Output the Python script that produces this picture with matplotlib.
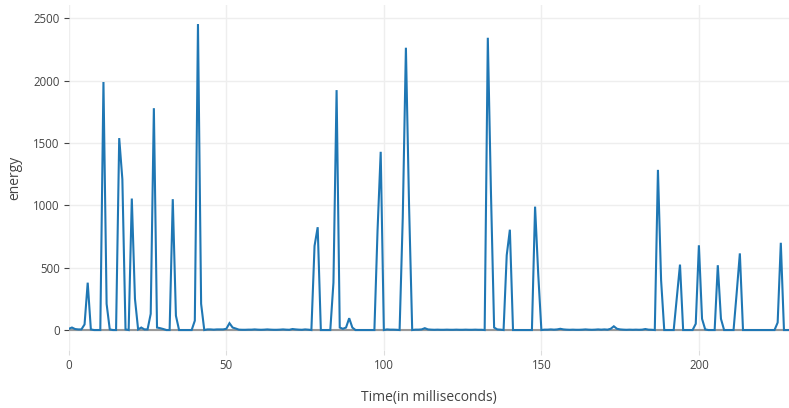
from matplotlib import pyplot as plt

# energy per millisecond sample, t = 0 .. 229
energy = [
    10, 20, 8, 5, 5, 45, 380, 5, 0, 0,
    0, 1990, 210, 5, 0, 0, 1540, 1210, 5, 0,
    1055, 250, 5, 20, 5, 5, 130, 1780, 20, 15,
    8, 0, 0, 1050, 115, 0, 0, 0, 0, 0,
    75, 2455, 210, 0, 5, 5, 3, 5, 5, 5,
    10, 55, 20, 12, 3, 2, 2, 3, 3, 5,
    3, 2, 3, 5, 3, 2, 2, 3, 5, 3,
    2, 8, 5, 3, 2, 5, 3, 0, 675, 825,
    0, 0, 0, 0, 380, 1925, 20, 10, 20, 95,
    20, 0, 0, 0, 0, 0, 0, 0, 800, 1430,
    0, 5, 3, 3, 2, 0, 900, 2265, 1000, 0,
    3, 3, 5, 15, 5, 3, 2, 3, 2, 2,
    3, 2, 2, 3, 2, 2, 3, 2, 2, 3,
    2, 2, 0, 2345, 1100, 20, 5, 3, 0, 600,
    805, 0, 0, 0, 0, 0, 0, 0, 990, 450,
    0, 3, 3, 5, 3, 5, 10, 5, 3, 2,
    3, 2, 2, 3, 5, 3, 2, 3, 5, 3,
    5, 3, 10, 30, 10, 5, 3, 2, 3, 2,
    3, 2, 3, 8, 3, 2, 0, 1285, 400, 0,
    0, 0, 0, 260, 525, 0, 0, 0, 0, 50,
    680, 90, 5, 0, 0, 0, 520, 90, 0, 0,
    0, 0, 300, 615, 0, 0, 0, 0, 0, 0,
    0, 0, 0, 0, 0, 60, 700, 0, 0, 0,
]
time_ms = list(range(len(energy)))

x_ticks = [0, 50, 100, 150, 200]
y_ticks = [0, 500, 1000, 1500, 2000, 2500]

plt.rcParams['font.family'] = ['Open Sans', 'DejaVu Sans']

fig = plt.figure(figsize=(7.89, 4.08), dpi=100)
ax = fig.add_axes([0.0872, 0.1422, 0.9128, 0.8456])

ax.plot(time_ms, energy, color='#1f77b4', linewidth=1.5, zorder=3,
        solid_joinstyle='miter')
ax.axhline(0, color='#999999', linewidth=1.5, zorder=2)

ax.set_xlim(0, 228.6)
ax.set_ylim(-160, 2608)
ax.set_xticks(x_ticks)
ax.set_yticks(y_ticks)

ax.grid(True, color='#eeeeee', linewidth=1.0, zorder=0)
ax.set_axisbelow(True)
for s in ax.spines.values():
    s.set_visible(False)

ax.tick_params(axis='y', length=3.6, width=0.8, color='#444444', pad=3,
               labelsize=8.3, labelcolor='#444444')
ax.tick_params(axis='x', length=3.6, width=0.8, color='#dddddd', pad=3,
               labelsize=8.3, labelcolor='#444444')
ax.xaxis.get_major_ticks()[0].tick1line.set_color('#444444')

ax.set_xlabel('Time(in milliseconds)', fontsize=10, color='#444444', labelpad=13)
ax.set_ylabel('energy', fontsize=10, color='#444444', labelpad=8)

fig.savefig('out.png', dpi=100)
